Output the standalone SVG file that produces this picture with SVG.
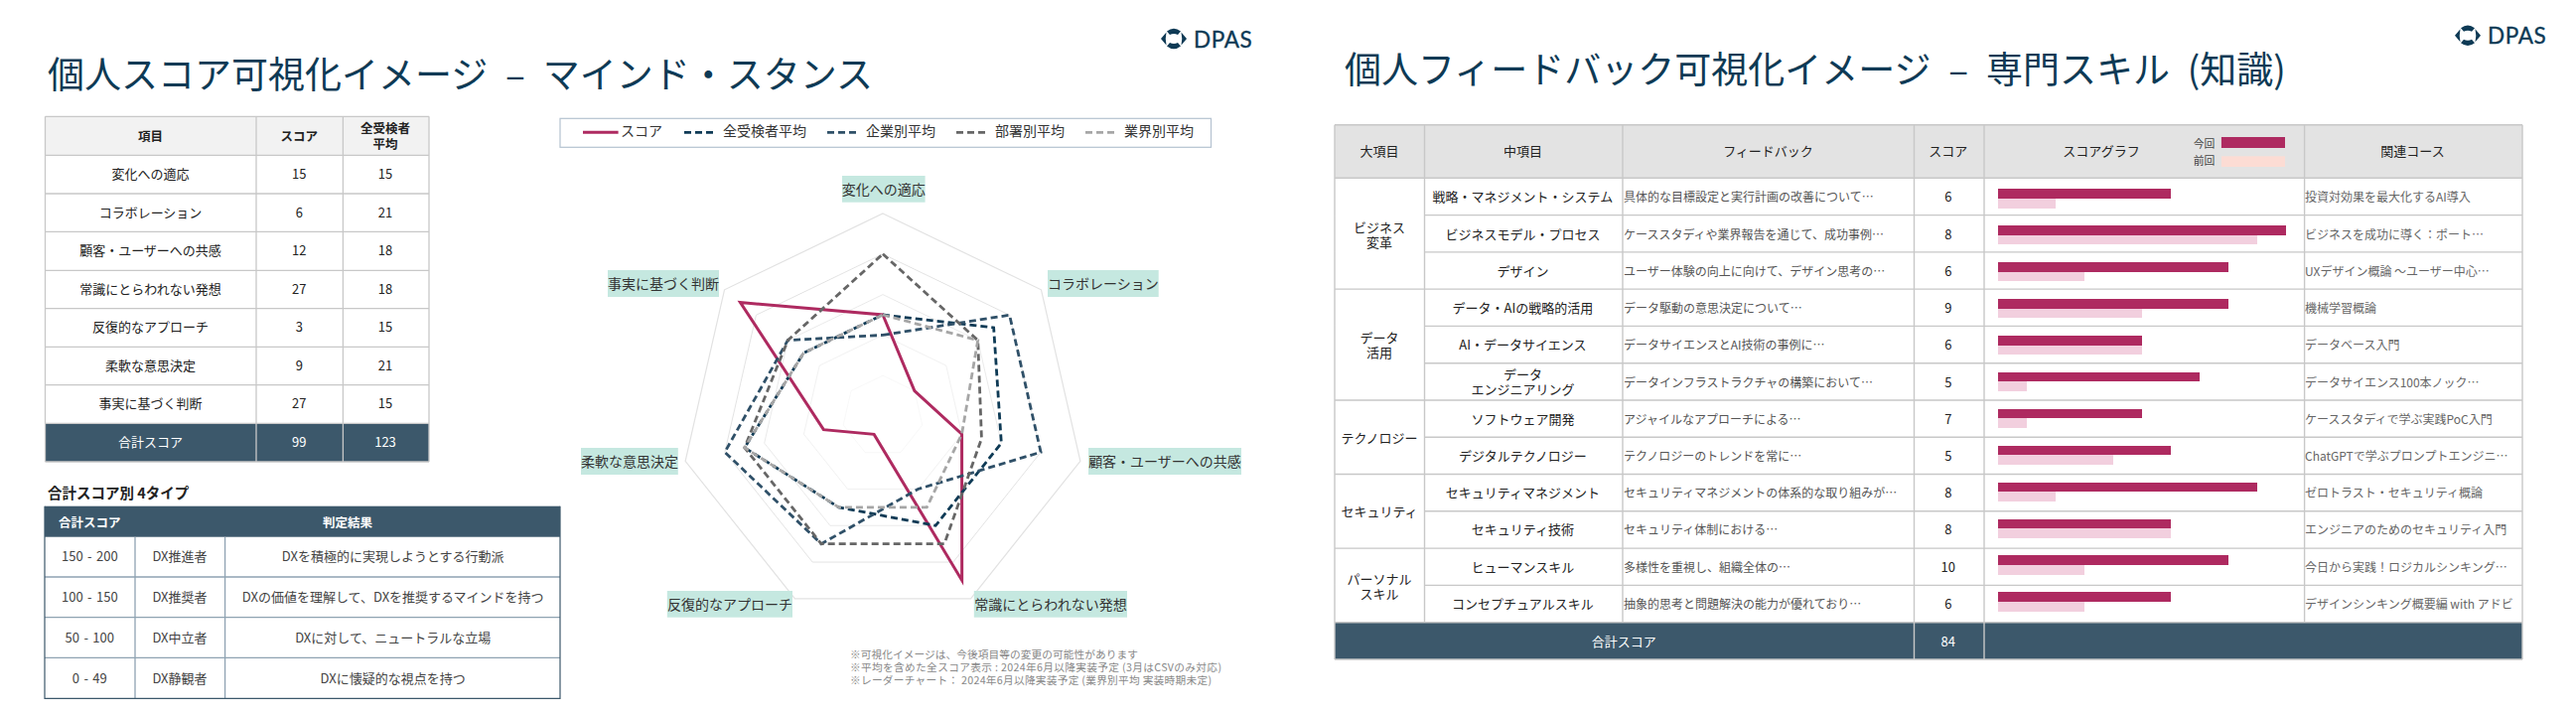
<svg xmlns="http://www.w3.org/2000/svg" xmlns:xlink="http://www.w3.org/1999/xlink" width="2594" height="720" viewBox="0 0 2594 720">
<style>
text{font-family:"Noto Sans CJK JP","Noto Sans",sans-serif;dominant-baseline:central;text-anchor:middle;fill:#222}
.title{font-size:37px;fill:#0e3a55;text-anchor:start;dominant-baseline:alphabetic;word-spacing:9.5px}
.logo{font-family:Lato,"Liberation Sans",sans-serif;font-size:22.5px;fill:#0e3a55;stroke:#0e3a55;stroke-width:.35px;text-anchor:start;dominant-baseline:alphabetic;letter-spacing:.6px}
.th{font-size:12.5px;font-weight:700}
.td{font-size:13px}
.w{fill:#fff}
.tt{font-size:14.5px;font-weight:700;text-anchor:start;dominant-baseline:alphabetic}
.g{font-size:13px;fill:#444}
.n{word-spacing:1.5px}
.lg{font-size:14px;text-anchor:start;fill:#333}
.ax{font-size:14px;fill:#333}
.note{font-size:10.7px;fill:#888;text-anchor:start}
.fb{font-size:12px;fill:#555;text-anchor:start}
.cs{font-size:12px;fill:#666;text-anchor:start}
.sm{font-size:10.8px;fill:#444}
.grid{fill:none;stroke:#c8c8c8;stroke-width:1.3}
.grid2{fill:none;stroke:#c8c8c8;stroke-width:1.4}
.foot{fill:#3c586b}
.ring{fill:none;stroke:#e2e2e2;stroke-width:1.2;vector-effect:non-scaling-stroke}
.s{fill:none;stroke-width:3;stroke-linejoin:miter}
.d{stroke-dasharray:7 4;stroke-width:2.8}
.d0{stroke:#ae2a60}.d1{stroke:#0e3a55}.d2{stroke:#2f5068}.d3{stroke:#666}.d4{stroke:#a6a6a6}
.box{fill:#c5e8e0}
.cur{fill:#ae2a60}.prv{fill:#f2cfde}
</style>
<defs>
<g id="logomark" fill="#0e3a55">
<path d="M-13 0L-7.5 -6.5Q-9 0 -7.5 6.5Z"/>
<path d="M13 0L7.5 -6.5Q9 0 7.5 6.5Z"/>
<path d="M-7 -7.5Q0 -13 7 -7.5L4 -4Q0 -6 -4 -4Z"/>
<path d="M-7 7.5Q0 13 7 7.5L4 4Q0 6 -4 4Z"/>
</g>
<polygon id="hept" points="0,-204 159.49,-127.19 198.88,45.39 88.52,183.8 -88.52,183.8 -198.88,45.39 -159.49,-127.19"/>
</defs>
<rect width="2594" height="720" fill="#fff"/>

<g id="left-title"><text class="title" x="48" y="89">個人スコア可視化イメージ – マインド・スタンス</text></g>
<g id="logo-left"><use xlink:href="#logomark" href="#logomark" x="1182" y="39"/><text class="logo" x="1202" y="47.5">DPAS</text></g>

<g id="score-table">
<rect x="45.5" y="117.3" width="386.5" height="39" fill="#f2f2f2"/>
<rect class="foot" x="45.5" y="426.3" width="386.5" height="38.7"/>
<path class="grid" d="M45.5 117.3H432M45.5 156.3H432M45.5 195H432M45.5 233.3H432M45.5 272.3H432M45.5 310.7H432M45.5 349.3H432M45.5 387.7H432M45.5 426.3H432M45.5 465H432M45.5 117.3V465M258 117.3V465M345.4 117.3V465M432 117.3V465"/>
<text class="th" x="151.5" y="136">項目</text><text class="th" x="301.3" y="136">スコア</text>
<text class="th" x="388" y="128">全受検者</text><text class="th" x="388" y="144">平均</text>
<text class="td" x="151.5" y="174.7">変化への適応</text><text class="td" x="301.3" y="174.7">15</text><text class="td" x="388" y="174.7">15</text>
<text class="td" x="151.5" y="213.3">コラボレーション</text><text class="td" x="301.3" y="213.3">6</text><text class="td" x="388" y="213.3">21</text>
<text class="td" x="151.5" y="251.7">顧客・ユーザーへの共感</text><text class="td" x="301.3" y="251.7">12</text><text class="td" x="388" y="251.7">18</text>
<text class="td" x="151.5" y="290.7">常識にとらわれない発想</text><text class="td" x="301.3" y="290.7">27</text><text class="td" x="388" y="290.7">18</text>
<text class="td" x="151.5" y="328.7">反復的なアプローチ</text><text class="td" x="301.3" y="328.7">3</text><text class="td" x="388" y="328.7">15</text>
<text class="td" x="151.5" y="367.3">柔軟な意思決定</text><text class="td" x="301.3" y="367.3">9</text><text class="td" x="388" y="367.3">21</text>
<text class="td" x="151.5" y="405.7">事実に基づく判断</text><text class="td" x="301.3" y="405.7">27</text><text class="td" x="388" y="405.7">15</text>
<text class="td w" x="151.5" y="444.3">合計スコア</text><text class="td w" x="301.3" y="444.3">99</text><text class="td w" x="388" y="444.3">123</text>
</g>

<g id="type-table">
<text class="tt" x="48" y="502">合計スコア別 4タイプ</text>
<rect class="foot" x="45" y="509.7" width="519" height="31"/>
<path fill="none" stroke="#8fa3b2" stroke-width="1.3" d="M45 581H564M45 621.7H564M45 662.3H564M136 540.7V703.3M226.6 540.7V703.3"/>
<path fill="none" stroke="#3c586b" stroke-width="1.2" d="M45 509.7V703.3H564V509.7"/>
<text class="th w" x="90.3" y="525" style="fill:#fff">合計スコア</text><text class="th w" x="350" y="525" style="fill:#fff">判定結果</text>
<text class="g n" x="90.3" y="559.3">150 - 200</text><text class="g" x="181" y="559.3">DX推進者</text><text class="g" x="395.7" y="559.3">DXを積極的に実現しようとする行動派</text>
<text class="g n" x="90.3" y="600">100 - 150</text><text class="g" x="181" y="600">DX推奨者</text><text class="g" x="395.7" y="600">DXの価値を理解して、DXを推奨するマインドを持つ</text>
<text class="g n" x="90.3" y="641.7">50 - 100</text><text class="g" x="181" y="641.7">DX中立者</text><text class="g" x="395.7" y="641.7">DXに対して、ニュートラルな立場</text>
<text class="g n" x="90.3" y="682.7">0 - 49</text><text class="g" x="181" y="682.7">DX静観者</text><text class="g" x="395.7" y="682.7">DXに懐疑的な視点を持つ</text>
</g>

<g id="legend">
<rect x="564" y="119.3" width="655.5" height="29" fill="#fff" stroke="#b4c2d0" stroke-width="1.2"/>
<line class="s d0" x1="587" y1="133.3" x2="622.6" y2="133.3"/><text class="lg" x="625" y="131">スコア</text>
<line class="s d d1" x1="689" y1="133.3" x2="722" y2="133.3"/><text class="lg" x="728" y="131">全受検者平均</text>
<line class="s d d2" x1="833" y1="133.3" x2="866" y2="133.3"/><text class="lg" x="872" y="131">企業別平均</text>
<line class="s d d3" x1="963" y1="133.3" x2="996" y2="133.3"/><text class="lg" x="1002" y="131">部署別平均</text>
<line class="s d d4" x1="1093" y1="133.3" x2="1126" y2="133.3"/><text class="lg" x="1132" y="131">業界別平均</text>
</g>

<g id="radar-chart">
<g transform="translate(889 419)">
<use xlink:href="#hept" href="#hept" class="ring" transform="scale(.2)"/>
<use xlink:href="#hept" href="#hept" class="ring" transform="scale(.4)"/>
<use xlink:href="#hept" href="#hept" class="ring" transform="scale(.6)"/>
<use xlink:href="#hept" href="#hept" class="ring" transform="scale(.8)"/>
<use xlink:href="#hept" href="#hept" class="ring"/>
<polygon id="series-score" class="s d0" points="0,-102 31.9,-25.44 79.55,18.16 79.66,165.42 -8.85,18.38 -59.66,13.62 -143.54,-114.47"/>
<polygon id="series-all" class="s d d1" points="0,-102 111.64,-89.04 119.33,27.23 53.11,110.28 -44.26,91.9 -139.22,31.77 -79.74,-63.6"/>
<polygon id="series-company" class="s d d2" points="0,-81.6 127.59,-101.76 159.1,36.31 35.41,73.52 -61.96,128.66 -159.1,36.31 -95.69,-76.32"/>
<polygon id="series-dept" class="s d d3" points="0,-163.2 95.69,-76.32 99.44,22.7 61.96,128.66 -61.96,128.66 -139.22,31.77 -95.69,-76.32"/>
<polygon id="series-industry" class="s d d4" points="0,-102 95.69,-76.32 79.55,18.16 44.26,91.9 -44.26,91.9 -139.22,31.77 -79.74,-63.6"/>
</g>
<rect class="box" x="848" y="177" width="83.6" height="26.7"/><text class="ax" x="889.8" y="190">変化への適応</text>
<rect class="box" x="1055" y="272" width="111.7" height="27"/><text class="ax" x="1110.8" y="285">コラボレーション</text>
<rect class="box" x="1096" y="451" width="154" height="27"/><text class="ax" x="1173" y="464">顧客・ユーザーへの共感</text>
<rect class="box" x="980.8" y="595" width="154.2" height="26.7"/><text class="ax" x="1058" y="608">常識にとらわれない発想</text>
<rect class="box" x="671.8" y="595" width="126.2" height="26.7"/><text class="ax" x="735" y="608">反復的なアプローチ</text>
<rect class="box" x="585" y="451" width="97.8" height="27"/><text class="ax" x="634" y="464">柔軟な意思決定</text>
<rect class="box" x="612" y="272" width="112" height="27"/><text class="ax" x="668" y="285">事実に基づく判断</text>
</g>

<g id="notes">
<text class="note" x="856" y="658" textLength="290">※可視化イメージは、今後項目等の変更の可能性があります</text>
<text class="note" x="856" y="671" textLength="374">※平均を含めた全スコア表示 : 2024年6月以降実装予定 (3月はCSVのみ対応)</text>
<text class="note" x="856" y="684" textLength="364">※レーダーチャート： 2024年6月以降実装予定 (業界別平均 実装時期未定)</text>
</g>

<g id="right-title"><text class="title" x="1354" y="84">個人フィードバック可視化イメージ – 専門スキル (知識)</text></g>
<g id="logo-right"><use xlink:href="#logomark" href="#logomark" x="2485" y="35.7"/><text class="logo" x="2505" y="44">DPAS</text></g>

<g id="feedback-table">
<rect x="1344" y="125.7" width="1196" height="53.6" fill="#e3e3e3"/>
<rect class="foot" x="1344" y="626.7" width="1196" height="37.3"/>
<path class="grid2" d="M1344 125.7H2540M1344 179.3H2540M1434.5 216.6H2540M1434.5 253.9H2540M1344 291.1H2540M1434.5 328.4H2540M1434.5 365.7H2540M1344 403H2540M1434.5 440.3H2540M1344 477.5H2540M1434.5 514.8H2540M1344 552.1H2540M1434.5 589.4H2540M1344 626.7H2540M1344 664H2540M1344 125.7V664M1434.5 125.7V626.7M1634 125.7V626.7M1927.5 125.7V664M1998 125.7V664M2320.6 125.7V626.7M2540 125.7V664"/>
<text class="td" x="1389" y="151">大項目</text><text class="td" x="1533.4" y="151">中項目</text><text class="td" x="1780.5" y="151">フィードバック</text><text class="td" x="1961.8" y="151">スコア</text><text class="td" x="2116" y="151">スコアグラフ</text><text class="td" x="2429.5" y="151">関連コース</text>
<text class="sm" x="2219.6" y="144">今回</text><text class="sm" x="2219.6" y="161">前回</text>
<rect class="cur" x="2236.9" y="138" width="64.1" height="11"/><rect x="2236.9" y="157.3" width="64.1" height="10.7" fill="#fcdcd4"/>

<text class="td" x="1389" y="228">ビジネス</text><text class="td" x="1389" y="243">変革</text>
<text class="td" x="1389" y="339">データ</text><text class="td" x="1389" y="354">活用</text>
<text class="td" x="1389" y="440">テクノロジー</text>
<text class="td" x="1389" y="514.5">セキュリティ</text>
<text class="td" x="1389" y="582">パーソナル</text><text class="td" x="1389" y="597">スキル</text>

<text class="td" x="1533.4" y="197.7">戦略・マネジメント・システム</text><text class="fb" x="1635" y="197.7">具体的な目標設定と実行計画の改善について…</text><text class="td" x="1961.8" y="197.7">6</text><text class="cs" x="2321" y="197.7">投資対効果を最大化するAI導入</text>
<text class="td" x="1533.4" y="235">ビジネスモデル・プロセス</text><text class="fb" x="1635" y="235">ケーススタディや業界報告を通じて、成功事例…</text><text class="td" x="1961.8" y="235">8</text><text class="cs" x="2321" y="235">ビジネスを成功に導く：ポート…</text>
<text class="td" x="1533.4" y="272">デザイン</text><text class="fb" x="1635" y="272">ユーザー体験の向上に向けて、デザイン思考の…</text><text class="td" x="1961.8" y="272">6</text><text class="cs" x="2321" y="272">UXデザイン概論 ～ユーザー中心…</text>
<text class="td" x="1533.4" y="309.5">データ・AIの戦略的活用</text><text class="fb" x="1635" y="309.5">データ駆動の意思決定について…</text><text class="td" x="1961.8" y="309.5">9</text><text class="cs" x="2321" y="309.5">機械学習概論</text>
<text class="td" x="1533.4" y="346.5">AI・データサイエンス</text><text class="fb" x="1635" y="346.5">データサイエンスとAI技術の事例に…</text><text class="td" x="1961.8" y="346.5">6</text><text class="cs" x="2321" y="346.5">データベース入門</text>
<text class="td" x="1533.4" y="376">データ</text><text class="td" x="1533.4" y="391">エンジニアリング</text><text class="fb" x="1635" y="384">データインフラストラクチャの構築において…</text><text class="td" x="1961.8" y="384">5</text><text class="cs" x="2321" y="384">データサイエンス100本ノック…</text>
<text class="td" x="1533.4" y="421">ソフトウェア開発</text><text class="fb" x="1635" y="421">アジャイルなアプローチによる…</text><text class="td" x="1961.8" y="421">7</text><text class="cs" x="2321" y="421">ケーススタディで学ぶ実践PoC入門</text>
<text class="td" x="1533.4" y="458.5">デジタルテクノロジー</text><text class="fb" x="1635" y="458.5">テクノロジーのトレンドを常に…</text><text class="td" x="1961.8" y="458.5">5</text><text class="cs" x="2321" y="458.5">ChatGPTで学ぶプロンプトエンジニ…</text>
<text class="td" x="1533.4" y="495.5">セキュリティマネジメント</text><text class="fb" x="1635" y="495.5">セキュリティマネジメントの体系的な取り組みが…</text><text class="td" x="1961.8" y="495.5">8</text><text class="cs" x="2321" y="495.5">ゼロトラスト・セキュリティ概論</text>
<text class="td" x="1533.4" y="532.5">セキュリティ技術</text><text class="fb" x="1635" y="532.5">セキュリティ体制における…</text><text class="td" x="1961.8" y="532.5">8</text><text class="cs" x="2321" y="532.5">エンジニアのためのセキュリティ入門</text>
<text class="td" x="1533.4" y="570">ヒューマンスキル</text><text class="fb" x="1635" y="570">多様性を重視し、組織全体の…</text><text class="td" x="1961.8" y="570">10</text><text class="cs" x="2321" y="570">今日から実践！ロジカルシンキング…</text>
<text class="td" x="1533.4" y="607">コンセプチュアルスキル</text><text class="fb" x="1635" y="607">抽象的思考と問題解決の能力が優れており…</text><text class="td" x="1961.8" y="607">6</text><text class="cs" x="2321" y="607">デザインシンキング概要編 with アドビ</text>
<text class="td w" x="1635.3" y="645">合計スコア</text><text class="td w" x="1961.8" y="645">84</text>

<rect class="cur" x="2012" y="190" width="174" height="10"/><rect class="prv" x="2012" y="200" width="58" height="10"/>
<rect class="cur" x="2012" y="227" width="290" height="10"/><rect class="prv" x="2012" y="237" width="261" height="9"/>
<rect class="cur" x="2012" y="264" width="232" height="10"/><rect class="prv" x="2012" y="274" width="87" height="9"/>
<rect class="cur" x="2012" y="301" width="232" height="10"/><rect class="prv" x="2012" y="311" width="145" height="9"/>
<rect class="cur" x="2012" y="338" width="145" height="10"/><rect class="prv" x="2012" y="348" width="145" height="9"/>
<rect class="cur" x="2012" y="375" width="203" height="9"/><rect class="prv" x="2012" y="384" width="29" height="10"/>
<rect class="cur" x="2012" y="412" width="145" height="9"/><rect class="prv" x="2012" y="421" width="29" height="10"/>
<rect class="cur" x="2012" y="449" width="174" height="9"/><rect class="prv" x="2012" y="458" width="116" height="10"/>
<rect class="cur" x="2012" y="486" width="261" height="9"/><rect class="prv" x="2012" y="495" width="58" height="10"/>
<rect class="cur" x="2012" y="523" width="174" height="9"/><rect class="prv" x="2012" y="532" width="174" height="10"/>
<rect class="cur" x="2012" y="559" width="232" height="10"/><rect class="prv" x="2012" y="569" width="87" height="10"/>
<rect class="cur" x="2012" y="596" width="174" height="10"/><rect class="prv" x="2012" y="606" width="87" height="10"/>
</g>
</svg>
